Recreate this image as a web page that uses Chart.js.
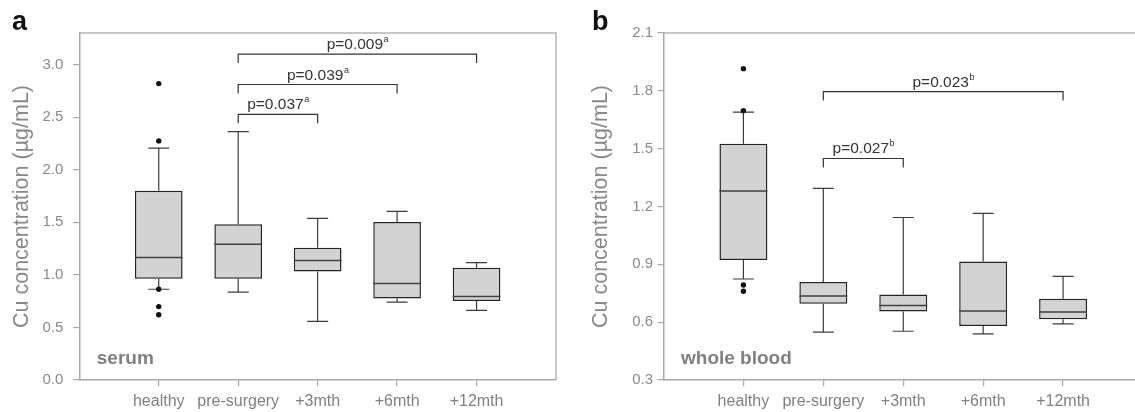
<!DOCTYPE html>
<html>
<head>
<meta charset="utf-8">
<script src="https://cdn.jsdelivr.net/npm/chart.js@4.4.1/dist/chart.umd.min.js"></script>
<style>
  html, body { margin: 0; padding: 0; background: #fff; overflow: hidden; width: 1135px; height: 412px; }
  .wrap { position: absolute; top: 0; height: 412px; }
  #wa { left: 0; width: 560px; }
  #wb { left: 560px; width: 600px; }
</style>
</head>
<body>
<div class="wrap" id="wa"><canvas id="chartA"></canvas></div>
<div class="wrap" id="wb"><canvas id="chartB"></canvas></div>
<script>
// categories shared by both panels
const categories = ['healthy', 'pre-surgery', '+3mth', '+6mth', '+12mth'];

// panel a: serum
const serumLow    = [0.863, 0.835, 0.558, 0.740, 0.663];
const serumQ1     = [0.963, 0.962, 1.032, 0.775, 0.752];
const serumMedian = [1.165, 1.290, 1.137, 0.917, 0.794];
const serumQ3     = [1.800, 1.481, 1.257, 1.502, 1.067];
const serumHigh   = [2.205, 2.362, 1.538, 1.603, 1.117];
const serumOutCat = [0, 0, 0, 0, 0];
const serumOutVal = [2.819, 2.274, 0.863, 0.698, 0.620];
const serumTicks  = [0.0, 0.5, 1.0, 1.5, 2.0, 2.5, 3.0];
const serumPFrom  = [1, 1, 1];
const serumPTo    = [2, 3, 4];
const serumPLevel = [2.527, 2.810, 3.100];
const serumPText  = ['p=0.037', 'p=0.039', 'p=0.009'];

// panel b: whole blood
const bloodLow    = [0.824, 0.548, 0.553, 0.539, 0.591];
const bloodQ1     = [0.923, 0.695, 0.655, 0.580, 0.615];
const bloodMedian = [1.280, 0.736, 0.686, 0.658, 0.653];
const bloodQ3     = [1.525, 0.808, 0.743, 0.915, 0.722];
const bloodHigh   = [1.690, 1.294, 1.143, 1.164, 0.838];
const bloodOutCat = [0, 0, 0, 0];
const bloodOutVal = [1.915, 1.697, 0.793, 0.760];
const bloodTicks  = [0.3, 0.6, 0.9, 1.2, 1.5, 1.8, 2.1];
const bloodPFrom  = [1, 1];
const bloodPTo    = [2, 4];
const bloodPLevel = [1.449, 1.796];
const bloodPText  = ['p=0.027', 'p=0.023'];

const FONT = '"Liberation Sans", Arial, Helvetica, sans-serif';
Chart.defaults.font.family = FONT;

const boxParts = {
  id: 'boxParts',
  beforeDatasetsDraw(chart, args, o) {
    const { ctx, chartArea: a, scales: { x, y } } = chart;
    ctx.save();
    // frame top and right
    ctx.strokeStyle = '#b4b4b4';
    ctx.lineWidth = 1.5;
    ctx.beginPath();
    ctx.moveTo(a.left, a.top);
    ctx.lineTo(a.right, a.top);
    ctx.lineTo(a.right, a.bottom);
    ctx.stroke();
    // whiskers and caps
    ctx.strokeStyle = '#3c3c3c';
    ctx.lineWidth = 1.2;
    ctx.beginPath();
    o.low.forEach((lo, i) => {
      const px = x.getPixelForValue(i);
      const yHi = y.getPixelForValue(o.high[i]);
      const yLo = y.getPixelForValue(lo);
      ctx.moveTo(px, yHi); ctx.lineTo(px, y.getPixelForValue(o.q3[i]));
      ctx.moveTo(px, y.getPixelForValue(o.q1[i])); ctx.lineTo(px, yLo);
      ctx.moveTo(px - 10.5, yHi); ctx.lineTo(px + 10.5, yHi);
      ctx.moveTo(px - 10.5, yLo); ctx.lineTo(px + 10.5, yLo);
    });
    ctx.stroke();
    ctx.restore();
  },
  afterDatasetsDraw(chart, args, o) {
    const { ctx, scales: { x, y } } = chart;
    const meta = chart.getDatasetMeta(0);
    ctx.save();
    ctx.strokeStyle = '#404040';
    ctx.lineWidth = 1.5;
    ctx.beginPath();
    o.median.forEach((m, i) => {
      const bar = meta.data[i];
      const py = y.getPixelForValue(m);
      ctx.moveTo(bar.x - bar.width / 2, py);
      ctx.lineTo(bar.x + bar.width / 2, py);
    });
    ctx.stroke();

    // significance brackets
    ctx.strokeStyle = '#333';
    ctx.lineWidth = 1.2;
    ctx.fillStyle = '#333';
    o.pFrom.forEach((f, i) => {
      const x1 = x.getPixelForValue(f);
      const x2 = x.getPixelForValue(o.pTo[i]);
      const yb = y.getPixelForValue(o.pLevel[i]);
      ctx.beginPath();
      ctx.moveTo(x1, yb + 9);
      ctx.lineTo(x1, yb);
      ctx.lineTo(x2, yb);
      ctx.lineTo(x2, yb + 9);
      ctx.stroke();
      ctx.font = '15.5px ' + FONT;
      const w1 = ctx.measureText(o.pText[i]).width;
      ctx.font = '9px ' + FONT;
      const w2 = ctx.measureText(o.sup).width;
      const sx = (x1 + x2) / 2 - (w1 + w2) / 2;
      ctx.textBaseline = 'alphabetic';
      ctx.textAlign = 'left';
      ctx.font = '15.5px ' + FONT;
      ctx.fillText(o.pText[i], sx, yb - 5);
      ctx.font = '9px ' + FONT;
      ctx.fillText(o.sup, sx + w1 + 0.5, yb - 12);
    });
    ctx.restore();
  },
  afterDraw(chart, args, o) {
    const { ctx, chartArea: a } = chart;
    ctx.save();
    ctx.textBaseline = 'alphabetic';
    ctx.textAlign = 'left';
    ctx.fillStyle = '#808080';
    ctx.font = 'bold 19px ' + FONT;
    ctx.fillText(o.inset, a.left + 17.5, 364);
    ctx.fillStyle = '#111';
    ctx.font = 'bold 27px ' + FONT;
    ctx.fillText(o.letter, o.letterX, 30);
    ctx.restore();
  }
};

function makeChart(id, p) {
  return new Chart(document.getElementById(id), {
    type: 'bar',
    data: {
      datasets: [{
        data: categories.map((c, i) => ({ x: i, y: [p.q1[i], p.q3[i]] })),
        backgroundColor: '#d3d3d3',
        borderColor: '#242424',
        borderWidth: 1.5,
        borderSkipped: false,
        barPercentage: 0.6,
        categoryPercentage: 1.0
      }, {
        type: 'scatter',
        data: p.outCat.map((c, i) => ({ x: c, y: p.outVal[i] })),
        backgroundColor: '#111',
        borderWidth: 0,
        pointRadius: 2.7
      }]
    },
    options: {
      responsive: true,
      maintainAspectRatio: false,
      animation: false,
      layout: { padding: { left: 0, top: 33, right: p.padRight, bottom: 0 } },
      scales: {
        x: {
          type: 'linear', min: -1, max: 5, offset: false,
          afterBuildTicks: s => { s.ticks = categories.map((c, i) => ({ value: i })); },
          afterFit: s => { s.height = 32; },
          ticks: {
            callback: v => categories[v],
            color: '#808080', font: { size: 16 }, padding: 6,
            autoSkip: false, maxRotation: 0
          },
          grid: { offset: false, drawOnChartArea: false, tickLength: 6, color: '#a8a8a8', lineWidth: 1.2 },
          border: { color: '#a8a8a8', width: 1.5 }
        },
        y: {
          min: p.yMin, max: p.yMax,
          afterBuildTicks: s => { s.ticks = p.ticks.map(v => ({ value: v })); },
          afterFit: s => { s.width = p.yWidth; },
          ticks: {
            callback: v => v.toFixed(1),
            color: '#8a8a8a', font: { size: 15 }, padding: p.tickPad
          },
          grid: { drawOnChartArea: false, tickLength: 6, color: '#a8a8a8', lineWidth: 1.2 },
          border: { color: '#a8a8a8', width: 1.5 },
          title: {
            display: true, text: 'Cu concentration (µg/mL)',
            color: '#888', font: { size: 21.5 }, padding: { top: p.titlePad, bottom: 0 }
          }
        }
      },
      plugins: {
        legend: { display: false },
        tooltip: { enabled: false },
        boxParts: {
          low: p.low, q1: p.q1, median: p.median, q3: p.q3, high: p.high,
          pFrom: p.pFrom, pTo: p.pTo, pLevel: p.pLevel, pText: p.pText, sup: p.sup,
          inset: p.inset, letter: p.letter, letterX: p.letterX
        }
      }
    },
    plugins: [boxParts]
  });
}

makeChart('chartA', {
  low: serumLow, q1: serumQ1, median: serumMedian, q3: serumQ3, high: serumHigh,
  outCat: serumOutCat, outVal: serumOutVal, ticks: serumTicks, yMin: 0, yMax: 3.3,
  pFrom: serumPFrom, pTo: serumPTo, pLevel: serumPLevel, pText: serumPText, sup: 'a',
  inset: 'serum', letter: 'a', letterX: 12,
  padRight: 2, yWidth: 79.3, tickPad: 10, titlePad: 9
});

makeChart('chartB', {
  low: bloodLow, q1: bloodQ1, median: bloodMedian, q3: bloodQ3, high: bloodHigh,
  outCat: bloodOutCat, outVal: bloodOutVal, ticks: bloodTicks, yMin: 0.3, yMax: 2.1,
  pFrom: bloodPFrom, pTo: bloodPTo, pLevel: bloodPLevel, pText: bloodPText, sup: 'b',
  inset: 'whole blood', letter: 'b', letterX: 32,
  padRight: 17, yWidth: 103.5, tickPad: 4.5, titlePad: 28
});
</script>
</body>
</html>
